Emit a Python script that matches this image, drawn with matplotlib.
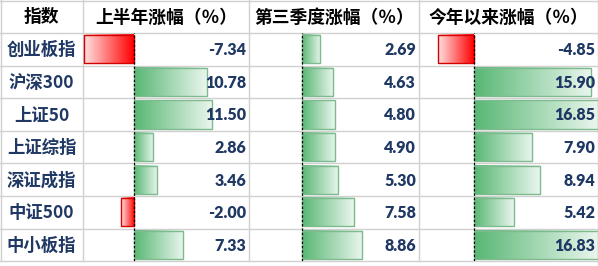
import numpy as np
import matplotlib
matplotlib.use('Agg')
import matplotlib.pyplot as plt
from matplotlib.colors import LinearSegmentedColormap
from matplotlib.patches import Rectangle

# datos de la tabla
nombres = ['创业板指', '沪深300', '上证50', '上证综指', '深证成指', '中证500', '中小板指']
encabezados = ['指数', '上半年涨幅（％）', '第三季度涨幅（％）', '今年以来涨幅（％）']
mitad_anio = [-7.34, 10.78, 11.50, 2.86, 3.46, -2.00, 7.33]
tercer_trim = [2.69, 4.63, 4.80, 4.90, 5.30, 7.58, 8.86]
en_el_anio = [-4.85, 15.90, 16.85, 7.90, 8.94, 5.42, 16.83]

W, H = 598, 266
col_x = [0, 83, 249, 419, 598]
cab_h = 33
fila_h = 32.6
n = len(nombres)
fin_y = cab_h + n * fila_h

# posicion del eje cero y escala (px por unidad) de cada columna
ceros = [134, 301.7, 474]
escalas = [6.75, 6.85, 7.35]

cjk = ['Noto Sans CJK SC', 'DejaVu Sans']
azul = '#1F3864'

fig = plt.figure(figsize=(W / 100, H / 100), dpi=100)
ax = fig.add_axes([0, 0, 1, 1])
ax.set_xlim(0, W)
ax.set_ylim(H, 0)
ax.axis('off')

# cuadricula
gris = '#D0D0D0'
ys = [0.5, cab_h] + [cab_h + (i + 1) * fila_h for i in range(n)]
for y in ys:
    ax.plot([0, W], [y, y], color=gris, lw=1)
for x in col_x[:-1] + [W - 0.5]:
    ax.plot([max(x, 0.5), max(x, 0.5)], [0, fin_y], color=gris, lw=1)

verde = LinearSegmentedColormap.from_list('v', ['#58B773', '#EAF6EE'])
rojo = LinearSegmentedColormap.from_list('r', ['#FFE2E2', '#FF0000'])
grad = np.linspace(0, 1, 256).reshape(1, -1)

columnas = [mitad_anio, tercer_trim, en_el_anio]
for k, valores in enumerate(columnas):
    x0, x1 = col_x[k + 1], col_x[k + 2]
    bax = fig.add_axes([x0 / W, 1 - fin_y / H, (x1 - x0) / W, (fin_y - cab_h) / H])
    bax.axis('off')
    alto = 0.87
    for i, v in enumerate(valores):
        y0, y1 = i - alto / 2, i + alto / 2
        if v >= 0:
            bax.imshow(grad, cmap=verde, aspect='auto', extent=[0, v, y1, y0],
                       interpolation='bilinear', zorder=1)
            bax.add_patch(Rectangle((0, y0), v, alto, fill=False,
                                    edgecolor='#7DBA8E', lw=1, zorder=2))
        else:
            bax.imshow(grad, cmap=rojo, aspect='auto', extent=[v, 0, y1, y0],
                       interpolation='bilinear', zorder=1)
            bax.add_patch(Rectangle((v, y0), -v, alto, fill=False,
                                    edgecolor='#D40000', lw=1, zorder=2))
    bax.axvline(0, color='black', lw=0.9, ls=(0, (2, 1.5)), zorder=3)
    bax.set_xlim(-(ceros[k] - x0) / escalas[k], (x1 - ceros[k]) / escalas[k])
    bax.set_ylim(n - 0.5, -0.5)

# capa de textos encima de las barras
tax = fig.add_axes([0, 0, 1, 1])
tax.set_xlim(0, W)
tax.set_ylim(H, 0)
tax.axis('off')
tax.patch.set_alpha(0)

for i, t in enumerate(encabezados):
    cx = (col_x[i] + col_x[i + 1]) / 2
    tax.text(cx, cab_h / 2 + 1, t, ha='center', va='center', fontsize=12.8,
             fontweight='heavy', family=cjk, color='black')

for i, t in enumerate(nombres):
    cy = cab_h + (i + 0.5) * fila_h
    tax.text(col_x[1] / 2, cy + 1, t, ha='center', va='center', fontsize=12.5,
             fontweight='heavy', family=cjk, color=azul)

for k, valores in enumerate(columnas):
    x1 = col_x[k + 2]
    for i, v in enumerate(valores):
        tax.text(x1 - 3, cab_h + (i + 0.5) * fila_h + 1, f'{v:.2f}',
                 ha='right', va='center', fontsize=11.5, fontweight='heavy',
                 family=['Lato', 'DejaVu Sans'], color=azul)

fig.savefig('out.png', dpi=100)
